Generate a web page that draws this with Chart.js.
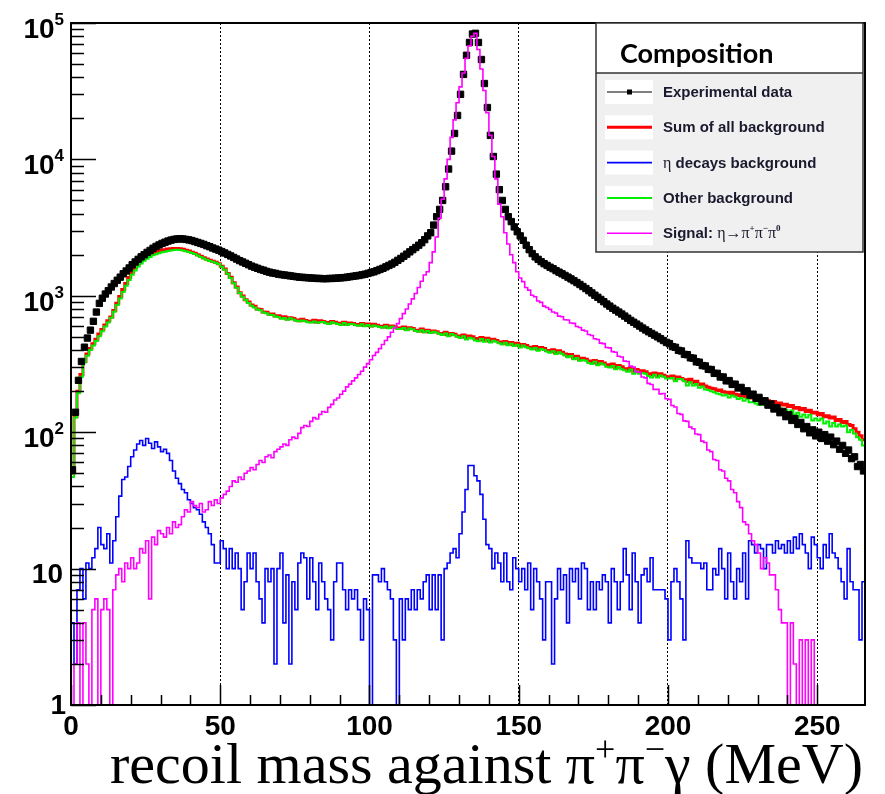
<!DOCTYPE html>
<html>
<head>
<meta charset="utf-8">
<title>recoil mass against π+π−γ</title>
<script src="https://cdn.jsdelivr.net/npm/chart.js@4.4.1/dist/chart.umd.min.js"></script>
<style>
  html, body { margin: 0; padding: 0; background: #fff; }
  #wrap { width: 885px; height: 794px; }
</style>
</head>
<body>
<div id="wrap"><canvas id="recoil-chart" width="885" height="794"></canvas></div>
<script>
// Histograms in 1 MeV bins: bin i covers [i, i+1) MeV
const X_MAX = 266;
const Y_MIN = 1;
const Y_MAX = 1e5;
const xLabelValues = [0, 50, 100, 150, 200, 250];

const dataCounts = [
  53, 140, 240, 330, 420, 490, 560, 650, 760, 880,
  960, 1030, 1090, 1160, 1230, 1300, 1370, 1450, 1520, 1600,
  1690, 1770, 1850, 1930, 2000, 2080, 2150, 2230, 2300, 2360,
  2420, 2470, 2520, 2560, 2590, 2610, 2620, 2610, 2590, 2570,
  2540, 2500, 2460, 2420, 2380, 2330, 2290, 2240, 2200, 2160,
  2110, 2060, 2010, 1960, 1910, 1860, 1810, 1770, 1730, 1690,
  1650, 1620, 1590, 1560, 1540, 1510, 1490, 1470, 1460, 1440,
  1430, 1420, 1410, 1400, 1390, 1380, 1370, 1365, 1360, 1355,
  1350, 1345, 1340, 1340, 1335, 1335, 1340, 1340, 1345, 1350,
  1355, 1360, 1370, 1380, 1390, 1400, 1410, 1425, 1440, 1460,
  1480, 1500, 1530, 1560, 1590, 1630, 1670, 1710, 1760, 1820,
  1880, 1950, 2020, 2100, 2180, 2260, 2350, 2450, 2580, 2750,
  2900, 3300, 3800, 4300, 5000, 6300, 8500, 11500, 15500, 21000,
  30000, 42000, 58000, 72000, 83000, 84000, 72000, 54000, 36000, 24000,
  15000, 10500, 7800, 6000, 5000, 4300, 3800, 3500, 3200, 2950,
  2750, 2550, 2350, 2180, 2040, 1930, 1850, 1780, 1720, 1670,
  1620, 1580, 1530, 1490, 1450, 1410, 1370, 1330, 1290, 1250,
  1210, 1170, 1130, 1090, 1050, 1010, 975, 940, 905, 870,
  840, 810, 785, 760, 735, 710, 685, 660, 640, 620,
  600, 580, 562, 545, 530, 515, 500, 485, 470, 455,
  446, 424, 419, 398, 394, 372, 370, 351, 349, 328,
  326, 308, 306, 289, 288, 270, 270, 254, 254, 238,
  239, 224, 225, 211, 213, 199, 201, 187, 190, 177,
  180, 167, 170, 158, 161, 148, 151, 139, 142, 130,
  134, 122, 126, 114, 118, 106, 110, 99, 104, 94,
  100, 90, 96, 86, 92, 81, 86, 75, 80, 70,
  74, 64, 66, 56, 58, 52
];

const sumBackground = [
  50, 130, 200, 265, 330, 375, 410, 445, 480, 525,
  565, 610, 655, 700, 780, 880, 990, 1110, 1230, 1360,
  1490, 1610, 1720, 1810, 1890, 1960, 2010, 2060, 2100, 2130,
  2160, 2180, 2200, 2210, 2220, 2220, 2210, 2190, 2160, 2130,
  2090, 2050, 2000, 1950, 1900, 1860, 1820, 1790, 1760, 1720,
  1650, 1570, 1455, 1365, 1245, 1160, 1055, 995, 935, 900,
  855, 838, 800, 792, 760, 757, 732, 735, 710, 714,
  690, 702, 676, 690, 681, 664, 655, 672, 660, 650,
  645, 662, 640, 655, 648, 636, 632, 648, 640, 628,
  622, 640, 618, 632, 626, 615, 610, 626, 605, 622,
  600, 618, 608, 598, 590, 608, 585, 600, 594, 580,
  575, 590, 568, 582, 576, 560, 552, 570, 545, 560,
  540, 552, 546, 530, 522, 540, 515, 530, 522, 508,
  500, 515, 492, 508, 500, 486, 478, 495, 472, 488,
  465, 480, 470, 458, 450, 462, 444, 455, 438, 448,
  428, 440, 432, 420, 412, 425, 405, 418, 410, 398,
  390, 402, 382, 395, 385, 375, 362, 372, 350, 360,
  340, 348, 342, 332, 325, 336, 318, 330, 322, 312,
  305, 316, 298, 308, 302, 292, 286, 295, 280, 288,
  274, 282, 277, 268, 264, 272, 260, 268, 262, 255,
  252, 258, 246, 254, 248, 242, 236, 244, 230, 236,
  224, 226, 218, 214, 210, 208, 202, 204, 198, 196,
  192, 196, 190, 186, 188, 182, 184, 178, 180, 174,
  172, 176, 168, 170, 166, 168, 162, 164, 158, 160,
  154, 157, 150, 152, 146, 149, 142, 145, 138, 140,
  134, 137, 130, 132, 127, 129, 122, 124, 118, 120,
  114, 112, 106, 100, 94, 88
];

const etaBackground = [
  4, 2, 7, 10, 6, 11, 10, 12, 14, 20,
  15, 14, 18, 11, 16, 24, 34, 45, 47, 56,
  66, 74, 82, 87, 80, 90, 83, 76, 85, 78,
  72, 75, 70, 62, 52, 46, 42, 38, 36, 32,
  30, 28, 27, 25, 22, 20, 18, 15, 11, 11,
  16, 14, 10, 14, 10, 13, 10, 5, 8, 13,
  10, 13, 8, 6, 4, 10, 8, 10, 2, 10,
  13, 4, 9, 2, 8, 5, 11, 13, 12, 6,
  12, 8, 5, 11, 8, 6, 5, 3, 8, 11,
  11, 7, 5, 7, 6, 7, 5, 3, 6, 5,
  0, 9, 9, 8, 10, 8, 7, 6, 3, 0,
  6, 3, 6, 5, 7, 5, 7, 6, 8, 9,
  5, 9, 5, 9, 3, 10, 11, 13, 14, 12,
  18, 26, 38, 57, 57, 48, 44, 35, 23, 15,
  14, 10, 13, 11, 8, 13, 8, 7, 12, 10,
  8, 10, 7, 11, 5, 10, 8, 6, 3, 8,
  8, 2, 6, 10, 7, 9, 4, 10, 8, 10,
  6, 11, 10, 5, 8, 5, 8, 7, 9, 8,
  4, 10, 8, 5, 8, 14, 9, 5, 13, 8,
  4, 9, 10, 8, 12, 7, 7, 7, 7, 6,
  3, 8, 10, 8, 6, 3, 16, 12, 11, 11,
  11, 10, 11, 7, 7, 10, 9, 14, 10, 6,
  13, 8, 6, 10, 8, 13, 6, 16, 15, 13,
  15, 14, 10, 15, 15, 13, 16, 14, 15, 13,
  16, 13, 17, 14, 18, 15, 13, 10, 17, 15,
  12, 10, 15, 12, 18, 13, 12, 10, 8, 6,
  14, 8, 7, 7, 3, 8
];

const otherBackground = [
  47, 128, 193, 255, 324, 364, 400, 433, 466, 505,
  550, 596, 637, 689, 764, 856, 956, 1065, 1183, 1304,
  1424, 1536, 1638, 1723, 1810, 1870, 1927, 1984, 2015, 2052,
  2088, 2105, 2130, 2148, 2168, 2174, 2168, 2152, 2124, 2098,
  2060, 2022, 1973, 1925, 1878, 1840, 1802, 1775, 1749, 1709,
  1630, 1552, 1450, 1348, 1238, 1145, 1050, 985, 930, 885,
  846, 820, 795, 782, 755, 745, 725, 722, 706, 700,
  680, 688, 668, 684, 670, 656, 650, 660, 652, 640,
  636, 648, 634, 640, 642, 630, 622, 640, 630, 620,
  612, 632, 610, 622, 618, 608, 603, 618, 598, 612,
  596, 606, 598, 590, 582, 598, 578, 594, 586, 572,
  570, 580, 560, 576, 568, 552, 546, 560, 540, 552,
  534, 545, 538, 524, 516, 530, 506, 524, 514, 500,
  490, 505, 478, 492, 486, 470, 465, 482, 460, 476,
  455, 468, 460, 448, 440, 452, 434, 445, 428, 438,
  418, 432, 420, 412, 404, 415, 396, 408, 400, 390,
  382, 392, 374, 385, 376, 365, 355, 362, 342, 350,
  334, 338, 334, 322, 316, 328, 310, 320, 314, 302,
  298, 306, 290, 300, 290, 284, 278, 288, 268, 280,
  268, 272, 268, 258, 252, 264, 252, 260, 255, 248,
  248, 250, 236, 246, 244, 236, 220, 232, 220, 226,
  212, 216, 206, 204, 200, 196, 192, 190, 186, 188,
  180, 186, 182, 175, 178, 170, 176, 166, 166, 162,
  158, 162, 158, 156, 152, 155, 147, 150, 144, 146,
  138, 144, 134, 139, 130, 135, 128, 134, 122, 126,
  122, 126, 116, 120, 110, 117, 110, 114, 110, 112,
  100, 104, 98, 92, 88, 80
];

const signalCounts = [
  0, 2, 4, 0, 4, 2, 0, 5, 6, 0,
  5, 6, 5, 0, 7, 9, 10, 8, 11, 10,
  12, 10, 11, 14, 13, 16, 6, 17, 15, 19,
  18, 17, 20, 18, 22, 20, 21, 24, 27, 26,
  31, 29, 28, 30, 26, 27, 31, 29, 32, 30,
  33, 35, 37, 40, 44, 43, 47, 45, 50, 52,
  55, 53, 58, 62, 60, 66, 68, 65, 72, 75,
  78, 82, 80, 88, 92, 90, 98, 108, 112, 110,
  120, 128, 125, 135, 142, 140, 152, 160, 172, 178,
  190, 200, 215, 225, 238, 250, 265, 280, 300, 318,
  340, 365, 385, 410, 440, 470, 500, 540, 580, 625,
  680, 740, 800, 870, 950, 1040, 1150, 1280, 1420, 1500,
  1750, 2100, 2700, 3700, 5100, 7200, 10000, 14500, 19500, 26000,
  34000, 43000, 55000, 68000, 80000, 84000, 64000, 46000, 32000, 22000,
  15000, 10500, 7200, 4700, 3800, 2900, 2400, 2000, 1750, 1500,
  1350, 1270, 1150, 1100, 1010, 985, 915, 895, 840, 820,
  795, 760, 748, 710, 702, 668, 665, 632, 628, 596,
  585, 560, 552, 520, 512, 484, 478, 450, 446, 418,
  415, 390, 386, 360, 356, 332, 330, 305, 300, 278,
  275, 254, 250, 228, 224, 206, 206, 191, 192, 176,
  174, 157, 153, 137, 135, 121, 120, 109, 106, 97,
  96, 86, 84, 74, 72, 63, 62, 53, 52, 46,
  44, 38, 36, 31, 28, 22, 21, 18, 16, 15,
  13, 10, 12, 11, 9, 9, 7, 5, 4, 4,
  0, 4, 2, 0, 3, 0, 3, 0, 3, 0,
  0, 0, 0, 0, 0, 0, 0, 0, 0, 0,
  0, 0, 0, 0, 0, 0
];

// legend rows: [dataset index, text parts]
const legendRows = [
  [0, [['Experimental data']]],
  [1, [['Sum of all background']]],
  [2, [['η', 'serif'], [' decays background']]],
  [3, [['Other background']]],
  [4, [['Signal: '], ['η→π', 'serif'], ['+', 'sup'], ['π', 'serif'], ['−', 'sup'], ['π', 'serif'], ['0', 'sup']]]
];
const titleParts = [['recoil mass against π'], ['+', 'sup'], ['π'], ['−', 'sup'], ['γ (MeV)']];

// empty bins sit on the floor of the log axis, like ROOT does
const toPoints = vals => vals.map((v, i) => ({ x: i + 0.5, y: Math.max(v, Y_MIN) }));
const toSteps = vals => {
  const pts = vals.map((v, i) => ({ x: i, y: Math.max(v, Y_MIN) }));
  pts.push({ x: vals.length, y: Math.max(vals[vals.length - 1], Y_MIN) });
  return pts;
};

const isDecade = v => Math.abs(Math.log10(v) - Math.round(Math.log10(v))) < 1e-9;

function drawRich(ctx, parts, x, base, fonts) {
  parts.forEach(([text, kind]) => {
    const f = fonts[kind || 'main'];
    ctx.font = f.font;
    ctx.fillText(text, x, base - (f.rise || 0));
    x += ctx.measureText(text).width;
  });
  return x;
}

const frameAndAxes = {
  id: 'frameAndAxes',
  afterDatasetsDraw(chart) {
    const { ctx, chartArea: a, scales: { x, y } } = chart;
    ctx.save();
    ctx.strokeStyle = '#000';
    ctx.lineWidth = 1.5;
    ctx.beginPath();
    y.ticks.forEach(t => {
      const py = Math.round(y.getPixelForValue(t.value)) + 0.5;
      ctx.moveTo(a.left, py);
      ctx.lineTo(a.left + (isDecade(t.value) ? 25 : 13), py);
    });
    x.ticks.forEach(t => {
      if (t.value % 10 !== 0) return;
      const px = Math.round(x.getPixelForValue(t.value)) + 0.5;
      ctx.moveTo(px, a.bottom);
      ctx.lineTo(px, a.bottom - (t.value % 50 === 0 ? 20 : 10));
    });
    ctx.stroke();

    ctx.lineWidth = 2;
    ctx.strokeRect(a.left, a.top, a.right - a.left, a.bottom - a.top);

    // y labels: 1, 10, 10^2 ... 10^5
    ctx.fillStyle = '#000';
    ctx.textBaseline = 'alphabetic';
    ctx.textAlign = 'right';
    y.ticks.filter(t => isDecade(t.value)).forEach(t => {
      const py = y.getPixelForValue(t.value);
      const e = Math.round(Math.log10(t.value));
      ctx.font = 'bold 28px "Liberation Sans"';
      if (e === 0) {
        ctx.fillText('1', 66, py + 9);
      } else if (e === 1) {
        ctx.fillText('10', 63, py + 14);
      } else {
        ctx.font = 'bold 17px "Liberation Sans"';
        const ew = ctx.measureText(String(e)).width;
        ctx.fillText(String(e), 64, py + 2);
        ctx.font = 'bold 28px "Liberation Sans"';
        ctx.fillText('10', 64 - ew, py + 15);
      }
    });

    // x labels
    ctx.textAlign = 'center';
    ctx.font = 'bold 28px "Liberation Sans"';
    xLabelValues.forEach(v => ctx.fillText(String(v), x.getPixelForValue(v), a.bottom + 30));
    ctx.restore();
  },
  afterDraw(chart) {
    const { ctx } = chart;
    ctx.save();
    ctx.fillStyle = '#000';
    ctx.textAlign = 'left';
    ctx.textBaseline = 'alphabetic';
    drawRich(ctx, titleParts, 110, 783, {
      main: { font: '58px "Liberation Serif"' },
      sup: { font: '36px "Liberation Serif"', rise: 22 }
    });

    // legend box
    const L = { left: 596, top: 23, right: 863, bottom: 252, head: 73 };
    ctx.fillStyle = '#fff';
    ctx.fillRect(L.left, L.top, L.right - L.left, L.head - L.top);
    ctx.fillStyle = '#f0f0f0';
    ctx.fillRect(L.left, L.head, L.right - L.left, L.bottom - L.head);
    ctx.strokeStyle = '#333';
    ctx.lineWidth = 1.5;
    ctx.strokeRect(L.left, L.top, L.right - L.left, L.bottom - L.top);
    ctx.beginPath();
    ctx.moveTo(L.left, L.head);
    ctx.lineTo(L.right, L.head);
    ctx.stroke();

    ctx.fillStyle = '#000';
    ctx.font = 'bold 27px Lato';
    ctx.fillText('Composition', 620, 63);

    legendRows.forEach(([di, parts], r) => {
      const cy = 92 + r * 35.3;
      const ds = chart.data.datasets[di];
      ctx.fillStyle = '#fff';
      ctx.fillRect(605, cy - 12, 48, 24);
      ctx.strokeStyle = ds.borderColor;
      ctx.lineWidth = di === 0 ? 1 : ds.borderWidth;
      ctx.beginPath();
      ctx.moveTo(607, cy);
      ctx.lineTo(652, cy);
      ctx.stroke();
      if (di === 0) {
        ctx.fillStyle = '#000';
        ctx.fillRect(627, cy - 2.5, 5, 5);
      }
      ctx.fillStyle = '#1a1a2e';
      drawRich(ctx, parts, 663, cy + 5, {
        main: { font: 'bold 15px "Liberation Sans"' },
        serif: { font: '16px "Liberation Serif"' },
        sup: { font: 'bold 9px "Liberation Serif"', rise: 7 }
      });
    });
    ctx.restore();
  }
};

const yTickValues = [];
for (let e = 0; e < 5; e++) {
  for (let s = 1; s <= 9; s++) yTickValues.push(s * Math.pow(10, e));
}
yTickValues.push(Y_MAX);

new Chart(document.getElementById('recoil-chart'), {
  type: 'line',
  data: {
    datasets: [
      {
        label: 'Experimental data',
        data: toPoints(dataCounts),
        showLine: false,
        borderColor: '#000',
        backgroundColor: '#000',
        pointStyle: 'rect',
        pointRadius: 4.5,
        pointBorderWidth: 1,
        borderWidth: 1,
        order: 2
      },
      {
        label: 'Sum of all background',
        data: toSteps(sumBackground),
        borderColor: '#ff0000',
        borderWidth: 3,
        stepped: true,
        pointRadius: 0,
        order: 4
      },
      {
        label: 'η decays background',
        data: toSteps(etaBackground),
        borderColor: '#0000ff',
        borderWidth: 1.6,
        stepped: true,
        pointRadius: 0,
        order: 1
      },
      {
        label: 'Other background',
        data: toSteps(otherBackground),
        borderColor: '#00ee00',
        borderWidth: 2,
        stepped: true,
        pointRadius: 0,
        order: 3
      },
      {
        label: 'Signal',
        data: toSteps(signalCounts),
        borderColor: '#ff00ff',
        borderWidth: 1.6,
        stepped: true,
        pointRadius: 0,
        order: 0
      }
    ]
  },
  options: {
    responsive: false,
    animation: false,
    devicePixelRatio: 1,
    layout: { padding: { top: 23, right: 20, left: 0, bottom: 0 } },
    plugins: {
      legend: { display: false },
      tooltip: { enabled: false }
    },
    scales: {
      x: {
        type: 'linear',
        min: 0,
        max: X_MAX,
        ticks: { display: false, stepSize: 10 },
        grid: {
          drawTicks: false,
          lineWidth: 1,
          color: c => (c.tick && c.tick.value % 50 === 0 && c.tick.value > 0 && c.tick.value < X_MAX) ? '#000' : 'rgba(0,0,0,0)'
        },
        border: { display: false, dash: [2, 2] },
        afterFit: s => { s.height = 89; }
      },
      y: {
        type: 'logarithmic',
        min: Y_MIN,
        max: Y_MAX,
        ticks: { display: false },
        grid: { display: false },
        border: { display: false },
        afterBuildTicks: s => { s.ticks = yTickValues.map(v => ({ value: v })); },
        afterFit: s => { s.width = 71; }
      }
    }
  },
  plugins: [frameAndAxes]
});
</script>
</body>
</html>
